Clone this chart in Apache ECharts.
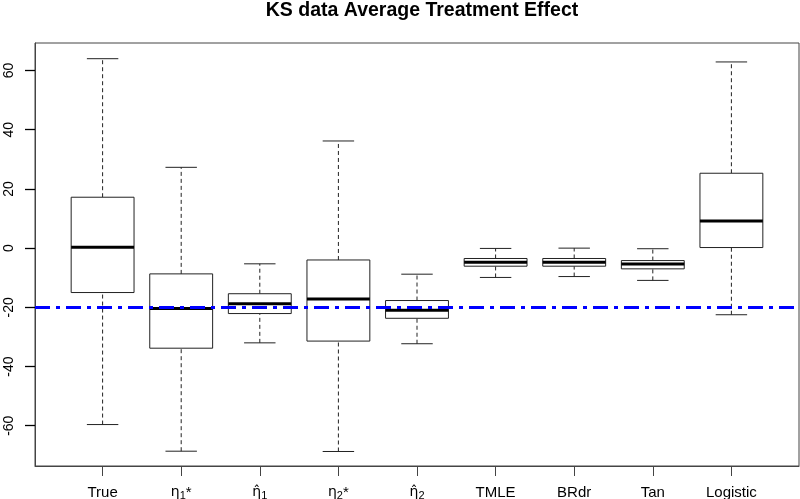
<!DOCTYPE html>
<html>
<head>
<meta charset="utf-8">
<script src="https://cdn.jsdelivr.net/npm/echarts@6/dist/echarts.min.js"></script>
<style>
  html, body { margin: 0; padding: 0; background: #fff; }
  #chart1 { width: 800px; height: 499px; }
</style>
</head>
<body>
<div id="chart1"></div>
<script>
// rich-text labels: {e|} greek letter (with combining hat), {g|} text, {s|} subscript
var methods = ["True", "η1*", "η̂1", "η2*", "η̂2", "TMLE", "BRdr", "Tan", "Logistic"]
var methodLabels = [
    "{g|True}",
    "{e|η}{s|1}{g|*}",
    "{e|η\u0302}{s|1}",
    "{e|η}{s|2}{g|*}",
    "{e|η\u0302}{s|2}",
    "{g|TMLE}",
    "{g|BRdr}",
    "{g|Tan}",
    "{g|Logistic}"
]
var lowWhisker  = [-59.6, -68.6, -32.0, -68.7, -32.3, -9.9, -9.6, -10.9, -22.5]
var lowerQuart  = [-15.0, -33.8, -22.1, -31.4, -23.7, -6.1, -6.1, -7.0, 0.2]
var medians     = [0.3, -20.4, -18.8, -17.2, -21.0, -4.8, -4.8, -5.4, 9.2]
var upperQuart  = [17.2, -8.7, -15.4, -4.0, -17.7, -3.5, -3.5, -4.2, 25.3]
var highWhisker = [64.0, 27.3, -5.3, 36.2, -8.8, -0.1, 0.0, -0.2, 62.9]
var yTicks = [-60, -40, -20, 0, 20, 40, 60]
var refLine = -20

var boxData = methods.map(function (m, i) {
    return [i + 1, lowWhisker[i], lowerQuart[i], medians[i], upperQuart[i], highWhisker[i]]
})

var ink = "#222"

function renderBox(params, api) {
    var x = api.value(0)
    var pLow = api.coord([x, api.value(1)])
    var pQ1 = api.coord([x, api.value(2)])
    var pMed = api.coord([x, api.value(3)])
    var pQ3 = api.coord([x, api.value(4)])
    var pHigh = api.coord([x, api.value(5)])
    var boxHalf = (api.coord([x + 0.4, 0])[0] - pMed[0])
    var capHalf = boxHalf / 2
    var cx = pMed[0]
    var dashed = { stroke: ink, lineWidth: 1, lineDash: [4, 3] }
    var solid = { stroke: ink, lineWidth: 1 }
    return {
        type: "group",
        children: [
            { type: "line", shape: { x1: cx, y1: pQ3[1], x2: cx, y2: pHigh[1] }, style: dashed },
            { type: "line", shape: { x1: cx, y1: pLow[1], x2: cx, y2: pQ1[1] }, style: dashed },
            { type: "line", shape: { x1: cx - capHalf, y1: pHigh[1], x2: cx + capHalf, y2: pHigh[1] }, style: solid },
            { type: "line", shape: { x1: cx - capHalf, y1: pLow[1], x2: cx + capHalf, y2: pLow[1] }, style: solid },
            { type: "rect", shape: { x: cx - boxHalf, y: pQ3[1], width: boxHalf * 2, height: pQ1[1] - pQ3[1] },
              style: { fill: "#fff", stroke: ink, lineWidth: 1 } },
            { type: "line", shape: { x1: cx - boxHalf, y1: pMed[1], x2: cx + boxHalf, y2: pMed[1] },
              style: { stroke: "#000", lineWidth: 3 } }
        ]
    }
}

var chart1 = echarts.init(document.querySelector("#chart1"))

var option = {
    animation: false,
    backgroundColor: "#fff",
    title: {
        text: "KS data Average Treatment Effect",
        left: 417,
        textAlign: "center",
        top: -4,
        textStyle: { fontFamily: "Liberation Sans", fontSize: 19.5, fontWeight: "bold", color: "#000" }
    },
    grid: {
        left: 35, right: 1, top: 43, bottom: 33,
        outerBoundsMode: "none",
        containLabel: false,
        show: true, borderColor: "#444", borderWidth: 1, backgroundColor: "transparent"
    },
    xAxis: {
        type: "value",
        min: 0.14,
        max: 9.86,
        splitLine: { show: false },
        axisLine: { show: true, onZero: false, lineStyle: { color: "#444" } },
        axisTick: {
            show: true, inside: false, length: 10,
            customValues: [1, 2, 3, 4, 5, 6, 7, 8, 9],
            lineStyle: { color: "#444" }
        },
        axisLabel: {
            customValues: [1, 2, 3, 4, 5, 6, 7, 8, 9],
            margin: 18,
            color: "#000",
            formatter: function (v) { return methodLabels[Math.round(v) - 1] },
            rich: {
                e: { fontFamily: "DejaVu Sans", fontSize: 14, lineHeight: 17, color: "#000" },
                g: { fontFamily: "Liberation Sans", fontSize: 15, lineHeight: 17, color: "#000" },
                s: { fontFamily: "Liberation Sans", fontSize: 11, lineHeight: 11, color: "#000", verticalAlign: "bottom" }
            }
        }
    },
    yAxis: {
        type: "value",
        min: -73.6,
        max: 69.3,
        splitLine: { show: false },
        axisLine: { show: true, onZero: false, lineStyle: { color: "#444" } },
        axisTick: {
            show: true, inside: false, length: 10,
            customValues: yTicks,
            lineStyle: { color: "#000", width: 1.3 }
        },
        axisLabel: {
            customValues: yTicks,
            rotate: 90,
            margin: 19,
            fontFamily: "Liberation Sans",
            fontSize: 14,
            color: "#000"
        }
    },
    series: [{
        type: "custom",
        renderItem: renderBox,
        data: boxData,
        clip: true,
        markLine: {
            silent: true,
            symbol: "none",
            label: { show: false },
            lineStyle: { color: "#0000ff", width: 3, type: [15, 6, 4, 6] },
            data: [{ yAxis: refLine }]
        }
    }]
}

chart1.setOption(option)
</script>
</body>
</html>
